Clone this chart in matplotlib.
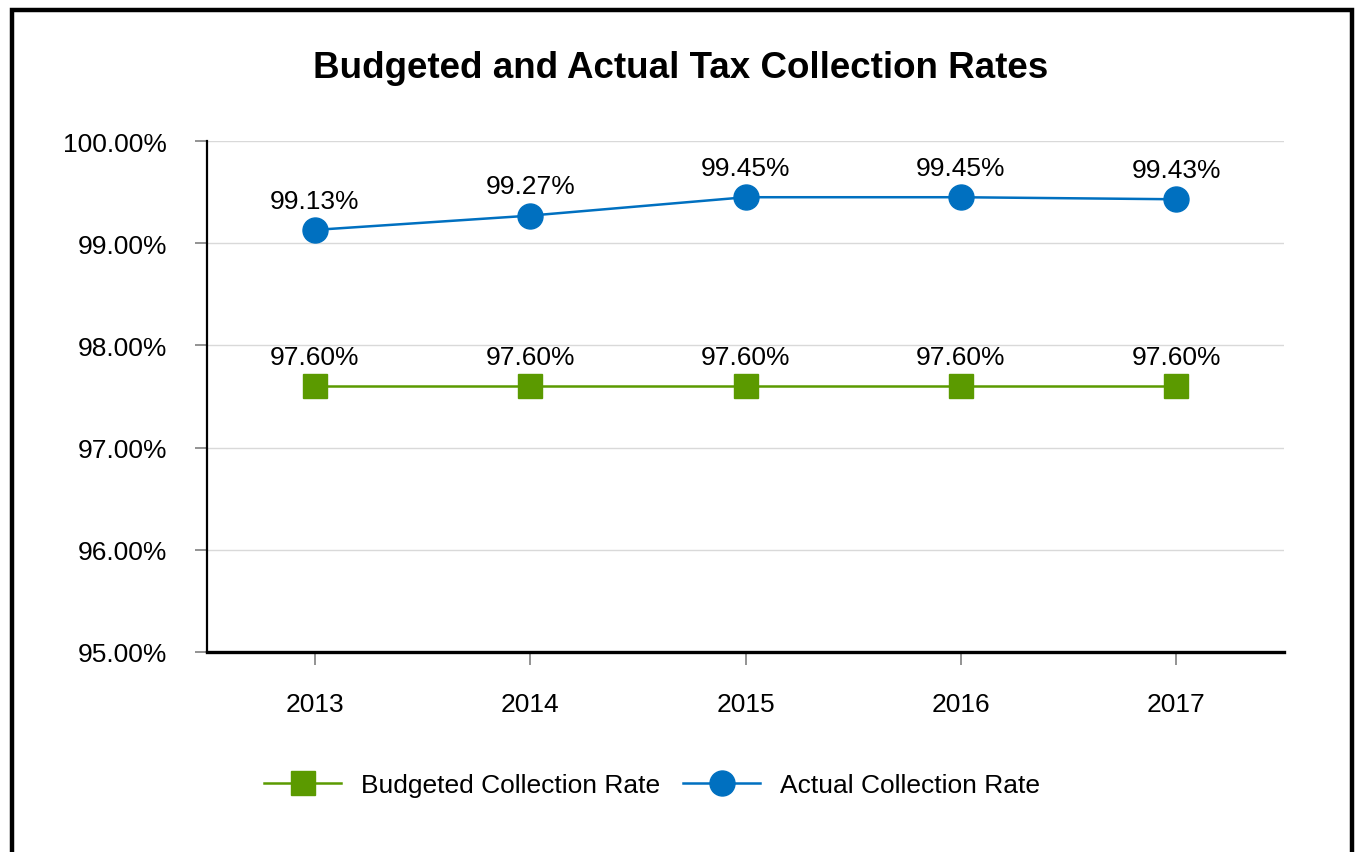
import matplotlib.pyplot as plt
from matplotlib.patches import Rectangle
from matplotlib.ticker import FuncFormatter

plt.rcParams['font.family'] = ['Liberation Sans', 'DejaVu Sans']

# --- data ---
years = ["2013", "2014", "2015", "2016", "2017"]
budgeted = [97.60, 97.60, 97.60, 97.60, 97.60]
actual = [99.13, 99.27, 99.45, 99.45, 99.43]

GREEN = "#5B9A00"
BLUE = "#0070C0"

fig = plt.figure(figsize=(13.55, 8.53), dpi=100)
ax = fig.add_axes([0.1528, 0.2345, 0.7948, 0.599])

x = list(range(len(years)))
ax.plot(x, budgeted, color=GREEN, lw=1.8, marker="s", ms=17,
        mfc=GREEN, mec=GREEN, label="Budgeted Collection Rate", zorder=3)
ax.plot(x, actual, color=BLUE, lw=1.8, marker="o", ms=18,
        mfc=BLUE, mec=BLUE, label="Actual Collection Rate", zorder=3)

# data labels above the markers
for xi, v in zip(x, budgeted):
    ax.annotate(f"{v:.2f}%", (xi, v), xytext=(0, 21), textcoords="offset points",
                ha="center", va="center", fontsize=19)
for xi, v in zip(x, actual):
    ax.annotate(f"{v:.2f}%", (xi, v), xytext=(0, 21), textcoords="offset points",
                ha="center", va="center", fontsize=19)

ax.set_xlim(-0.5, len(years) - 0.5)
ax.set_ylim(95, 100)
ax.set_yticks([95, 96, 97, 98, 99, 100])
ax.yaxis.set_major_formatter(FuncFormatter(lambda v, p: f"{v:.2f}%"))
ax.set_xticks(x)
ax.set_xticklabels(years)

ax.grid(axis="y", color="#D9D9D9", lw=1)
ax.set_axisbelow(True)
for side in ("top", "right"):
    ax.spines[side].set_visible(False)
ax.spines["left"].set_linewidth(1.6)
ax.spines["bottom"].set_linewidth(2.4)
ax.tick_params(axis="both", colors="#808080", length=9, width=1.2,
               labelcolor="black", labelsize=19)
ax.tick_params(axis="x", pad=20)
ax.tick_params(axis="y", pad=20)

fig.text(681 / 1355, 1 - 68 / 853, "Budgeted and Actual Tax Collection Rates",
         ha="center", va="center", fontsize=26.5, fontweight="bold")

fig.legend(loc="center", bbox_to_anchor=(652 / 1355, 1 - 786 / 853),
           ncol=2, frameon=False, fontsize=19, handlelength=2.9,
           columnspacing=0.9, handletextpad=0.75)

# outer frame (bottom edge runs off the image)
fig.patches.append(Rectangle((11.5 / 1355, -0.05), (1351.5 - 11.5) / 1355,
                             1 - 10.5 / 853 + 0.05, transform=fig.transFigure,
                             fill=False, ec="black", lw=3.2, clip_on=False))

fig.savefig("out.png", dpi=100)
